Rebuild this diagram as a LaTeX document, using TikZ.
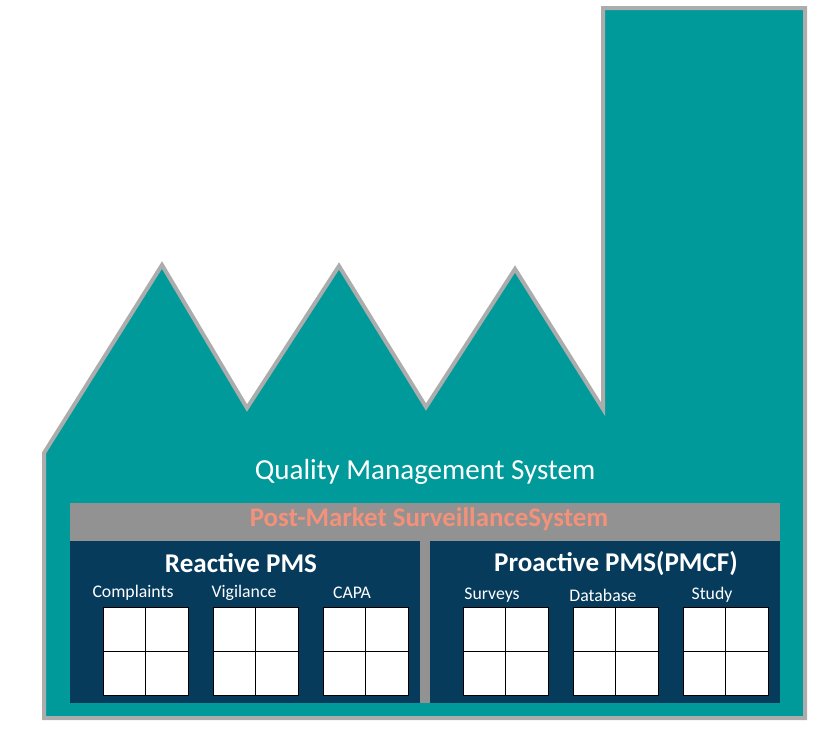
\documentclass[tikz,border=0pt]{standalone}
\usepackage{fontspec}
\setmainfont{Carlito}
\usetikzlibrary{positioning}
\definecolor{factoryteal}{RGB}{0,154,154}
\definecolor{outlinegray}{RGB}{172,172,172}
\definecolor{bandgray}{RGB}{146,146,146}
\definecolor{pmsnavy}{RGB}{6,59,92}
\definecolor{bandsalmon}{RGB}{243,145,122}
\begin{document}
\begin{tikzpicture}[x=0.75pt,y=-0.75pt,
		cell/.style={draw=black, fill=white, line width=0.6pt, minimum width=63.75pt, minimum height=66pt, inner sep=0pt},
		lbl/.style={text=white, font=\fontsize{13.3}{15}\selectfont},
		head/.style={text=white, font=\bfseries\fontsize{20.3}{23}\selectfont}]
			\useasboundingbox (0,0) rectangle (840,729);
			% factory
			\draw[fill=factoryteal, draw=outlinegray, line width=3pt] (44,718) -- (44,453) -- (162,265) -- (247,408) -- (339,266) -- (426,407) -- (515,269) -- (603,409) -- (603,8) -- (805,8) -- (805,718) -- cycle;
			\node (qms) at (425,472) [text=white, font=\fontsize{21.8}{25}\selectfont] {Quality Management System};
			% post-market surveillance
			\fill[bandgray] (70,503) rectangle (780,703);
			\node (pms) at (429,519) [text=bandsalmon, font=\bfseries\fontsize{20.2}{23}\selectfont] {Post-Market SurveillanceSystem};
			\fill[pmsnavy] (70,541) rectangle (420,703);
			\fill[pmsnavy] (430,541) rectangle (780,703);
			\node (reactive) at (241,563) [head] {Reactive PMS};
			\node (proactive) at (616,563) [head] {Proactive PMS(PMCF)};
			% grids
			\node (cgrid) at (145.5,651) [cell] {};
			\node (vgrid) at (255.5,651) [cell] {};
			\node (agrid) at (365.5,651) [cell] {};
			\node (sgrid) at (505.5,651) [cell] {};
			\node (dgrid) at (615.5,651) [cell] {};
			\node (tgrid) at (725.5,651) [cell] {};
			\draw[line width=0.6pt] (cgrid.north) -- (cgrid.south) (cgrid.west) -- (cgrid.east);
			\draw[line width=0.6pt] (vgrid.north) -- (vgrid.south) (vgrid.west) -- (vgrid.east);
			\draw[line width=0.6pt] (agrid.north) -- (agrid.south) (agrid.west) -- (agrid.east);
			\draw[line width=0.6pt] (sgrid.north) -- (sgrid.south) (sgrid.west) -- (sgrid.east);
			\draw[line width=0.6pt] (dgrid.north) -- (dgrid.south) (dgrid.west) -- (dgrid.east);
			\draw[line width=0.6pt] (tgrid.north) -- (tgrid.south) (tgrid.west) -- (tgrid.east);
			% labels
			\node (complaints) at (133,593) [lbl] {Complaints};
			\node (vigilance) at (244,593) [lbl] {Vigilance};
			\node (capa) at (352,593) [lbl] {CAPA};
			\node (surveys) at (492,595) [lbl] {Surveys};
			\node (database) at (603,595) [lbl] {Database};
			\node (study) at (712,595) [lbl] {Study};
			\end{tikzpicture}
\end{document}
